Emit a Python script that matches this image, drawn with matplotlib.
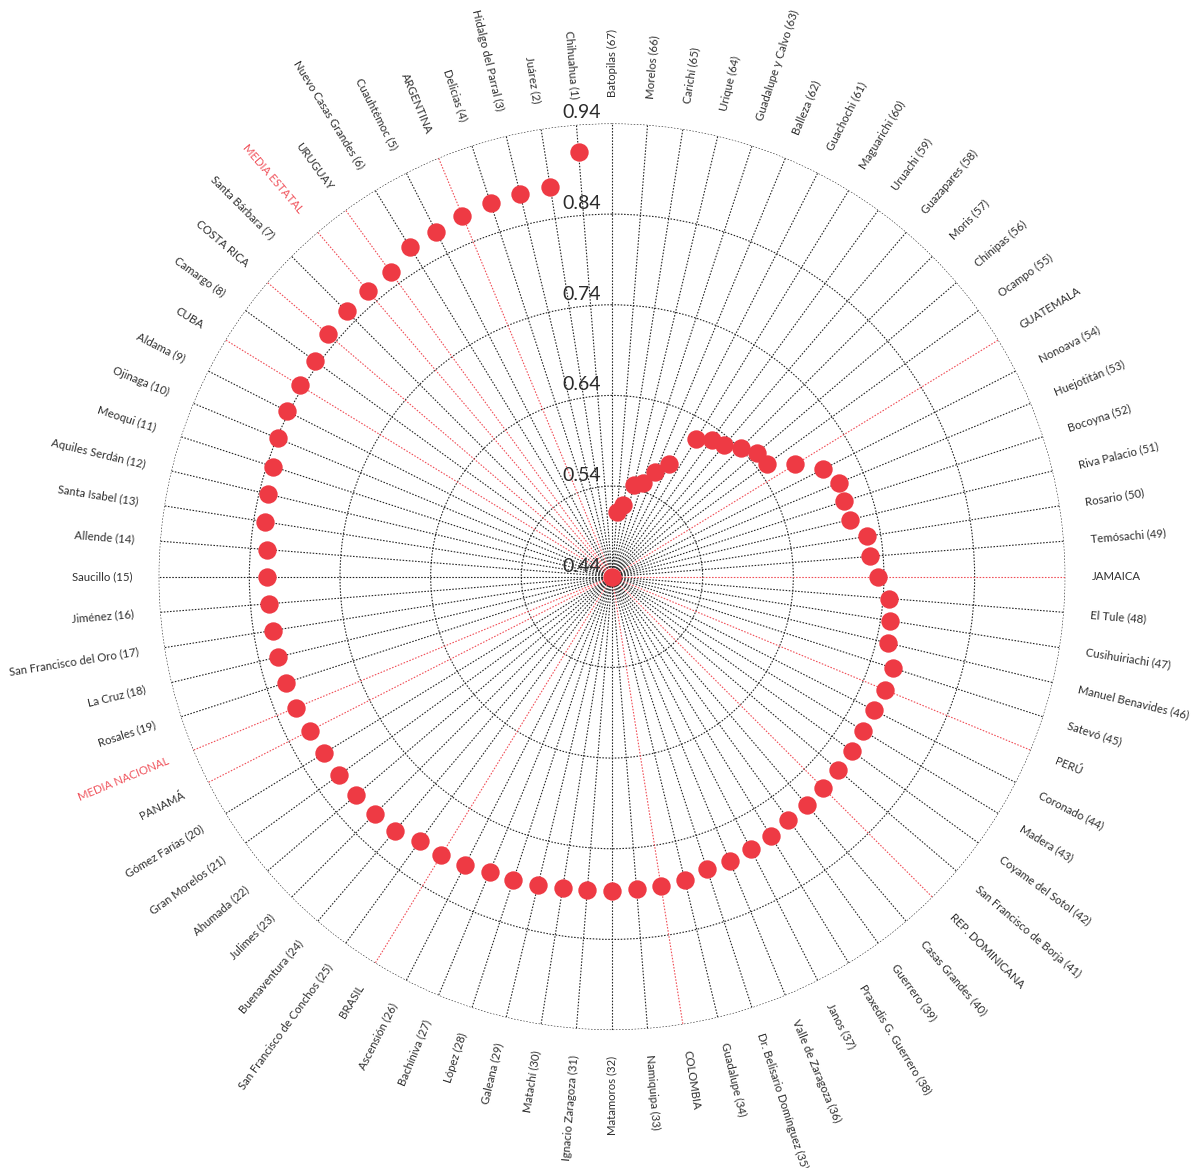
import numpy as np
import matplotlib
matplotlib.use("Agg")
import matplotlib.pyplot as plt

plt.rcParams['font.family'] = ['Lato', 'DejaVu Sans']

# Categorías en orden (antihorario desde arriba) y valores
categorias = [
    "Chihuahua (1)", "Juárez (2)", "Hidalgo del Parral (3)", "Delicias (4)", "ARGENTINA",
    "Cuauhtémoc (5)", "Nuevo Casas Grandes (6)", "URUGUAY", "MEDIA ESTATAL", "Santa Bárbara (7)",
    "COSTA RICA", "Camargo (8)", "CUBA", "Aldama (9)", "Ojinaga (10)",
    "Meoqui (11)", "Aquiles Serdán (12)", "Santa Isabel (13)", "Allende (14)", "Saucillo (15)",
    "Jiménez (16)", "San Francisco del Oro (17)", "La Cruz (18)", "Rosales (19)", "MEDIA NACIONAL",
    "PANAMÁ", "Gómez Farías (20)", "Gran Morelos (21)", "Ahumada (22)", "Julimes (23)",
    "Buenaventura (24)", "San Francisco de Conchos (25)", "BRASIL", "Ascensión (26)", "Bachíniva (27)",
    "López (28)", "Galeana (29)", "Matachí (30)", "Ignacio Zaragoza (31)", "Matamoros (32)",
    "Namiquipa (33)", "COLOMBIA", "Guadalupe (34)", "Dr. Belisario Domínguez (35)", "Valle de Zaragoza (36)",
    "Janos (37)", "Praxedis G. Guerrero (38)", "Guerrero (39)", "Casas Grandes (40)", "REP. DOMINICANA",
    "San Francisco de Borja (41)", "Coyame del Sotol (42)", "Madera (43)", "Coronado (44)", "PERÚ",
    "Satevó (45)", "Manuel Benavides (46)", "Cusihuiriachi (47)", "El Tule (48)", "JAMAICA",
    "Temósachi (49)", "Rosario (50)", "Riva Palacio (51)", "Bocoyna (52)", "Huejotitán (53)",
    "Nonoava (54)", "GUATEMALA", "Ocampo (55)", "Chínipas (56)", "Moris (57)",
    "Guazapares (58)", "Uruachi (59)", "Maguarichi (60)", "Guachochi (61)", "Balleza (62)",
    "Guadalupe y Calvo (63)", "Urique (64)", "Carichí (65)", "Morelos (66)", "Batopilas (67)",
]

valores = [
    0.910, 0.875, 0.874, 0.873, 0.871,
    0.867, 0.867, 0.855, 0.854, 0.854,
    0.852, 0.845, 0.844, 0.842, 0.839,
    0.833, 0.830, 0.828, 0.822, 0.821,
    0.820, 0.819, 0.819, 0.818, 0.817,
    0.814, 0.813, 0.812, 0.811, 0.810,
    0.809, 0.800, 0.800, 0.797, 0.792,
    0.792, 0.790, 0.788, 0.787, 0.787,
    0.786, 0.785, 0.784, 0.779, 0.779,
    0.777, 0.776, 0.771, 0.771, 0.769,
    0.768, 0.767, 0.765, 0.764, 0.766,
    0.766, 0.753, 0.750, 0.746, 0.733,
    0.725, 0.725, 0.710, 0.709, 0.711,
    0.701, 0.677, 0.652, 0.650, 0.641,
    0.631, 0.627, 0.618, 0.579, 0.565,
    0.549, 0.544, 0.520, 0.512, 0.440,
]

paises = ["ARGENTINA", "URUGUAY", "MEDIA ESTATAL", "COSTA RICA", "CUBA", "MEDIA NACIONAL",
          "PANAMÁ", "BRASIL", "COLOMBIA", "REP. DOMINICANA", "PERÚ", "JAMAICA", "GUATEMALA"]
medias = ["MEDIA ESTATAL", "MEDIA NACIONAL"]

marcas_r = [0.44, 0.54, 0.64, 0.74, 0.84, 0.94]

ROJO = "#EE3A44"
ROJO_LINEA = "#F04C55"
GRIS = "#303030"
PUNTEADO = (0, (1.4, 1.4))

n = len(categorias)
angulos = np.deg2rad(np.arange(1, n + 1) * 360.0 / n)

fig = plt.figure(figsize=(11.94, 11.68), dpi=100)
ax = fig.add_axes([0.1329, 0.1181, 0.7593, 0.7762], projection="polar")
ax.set_theta_zero_location("N")
ax.set_theta_direction(1)
ax.set_ylim(marcas_r[0], marcas_r[-1])

# Círculos
ax.set_yticks(marcas_r[1:])
ax.set_yticklabels([])
ax.set_xticks([])
ax.yaxis.grid(True, color="#222222", linestyle=PUNTEADO, linewidth=0.8)
ax.spines["polar"].set_visible(False)

# Radios
colores = [ROJO_LINEA if c in paises else "#222222" for c in categorias]
ax.vlines(angulos, marcas_r[0], marcas_r[-1], colors=colores, linestyles=PUNTEADO, linewidth=0.8, zorder=2)

# Puntos
ax.scatter(angulos, valores, s=175, color=ROJO, zorder=5, linewidths=0)

# Etiquetas de categorías
r_etiq = marcas_r[-1] + 0.029
for ang, cat in zip(angulos, categorias):
    grados = np.rad2deg(ang)
    if grados <= 180:
        rot, ha = grados - 90, "right"
    else:
        rot, ha = grados - 270, "left"
    col = "#F0555E" if cat in medias else GRIS
    ax.text(ang, r_etiq, cat, rotation=rot, ha=ha, va="center",
            rotation_mode="anchor", fontsize=8.2, color=col)

# Etiquetas del eje radial
for v in marcas_r:
    ax.annotate(f"{v:.2f}", xy=(0, v), xytext=(-8, 1.5), textcoords="offset points",
                ha="right", va="bottom", fontsize=14, color="#2b2b2b", zorder=6)

fig.savefig("out.png", dpi=100)
